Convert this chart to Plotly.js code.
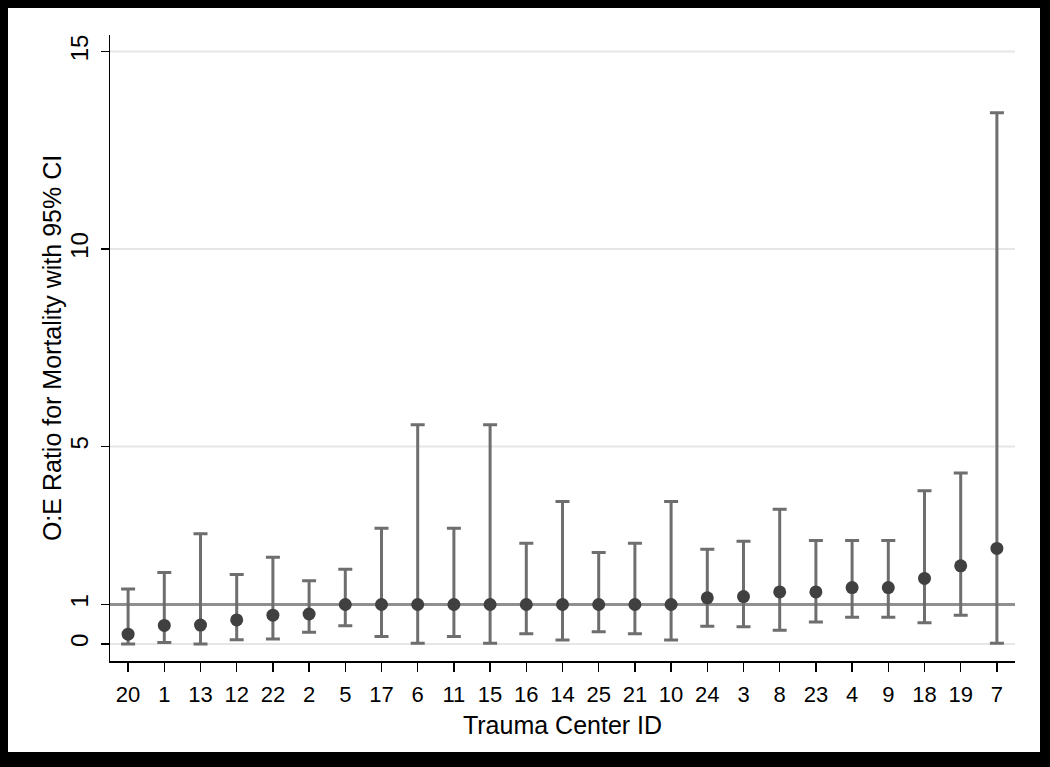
<!DOCTYPE html>
<html>
<head>
<meta charset="utf-8">
<script src="https://cdn.plot.ly/plotly-3.0.1.min.js"></script>
<style>
  html, body { margin: 0; padding: 0; background: #000; }
  #chart { position: absolute; left: 8px; top: 8px; width: 1032px; height: 744px; background: #fff; }
</style>
</head>
<body>
<div id="chart"></div>
<script>
// trauma centres, ordered by O:E ratio
var centers = ['20','1','13','12','22','2','5','17','6','11','15','16','14','25','21','10','24','3','8','23','4','9','18','19','7']
var oe_ratio = [0.25,0.47,0.48,0.61,0.73,0.76,1.0,1.0,1.0,1.0,1.0,1.0,1.0,1.0,1.0,1.0,1.17,1.2,1.32,1.32,1.43,1.43,1.66,1.98,2.42]
var ci_upper = [1.39,1.81,2.79,1.76,2.2,1.6,1.89,2.93,5.55,2.93,5.55,2.55,3.61,2.32,2.55,3.61,2.4,2.6,3.41,2.62,2.62,2.62,3.88,4.33,13.45]
var ci_lower = [0.0,0.04,0.0,0.11,0.13,0.3,0.46,0.19,0.02,0.19,0.02,0.26,0.1,0.31,0.26,0.1,0.45,0.44,0.35,0.56,0.68,0.68,0.54,0.73,0.02]
var y_ticks = [0, 1, 5, 10, 15]
var grid_vals = [0, 5, 10, 15]
var ref_value = 1

var font_family = 'Liberation Sans, Arial, sans-serif'

var points = {
	x: centers,
	y: oe_ratio,
	type: 'scatter',
	mode: 'markers',
	marker: {size: 13, color: '#404040'},
	error_y: {
		type: 'data',
		symmetric: false,
		array: oe_ratio.map((v, i) => ci_upper[i] - v),
		arrayminus: oe_ratio.map((v, i) => v - ci_lower[i]),
		color: '#6e6e6e',
		thickness: 3,
		width: 7
	},
	hoverinfo: 'x+y',
	showlegend: false
}

// gridlines drawn as shapes so the reference line at 1 stays on top of them
var shapes = grid_vals.map(v => ({
	type: 'line',
	xref: 'paper', x0: 0, x1: 1,
	yref: 'y', y0: v, y1: v,
	line: {color: '#e6e6e6', width: 2},
	layer: 'below'
}))
shapes.push({
	type: 'line',
	xref: 'paper', x0: 0, x1: 1,
	yref: 'y', y0: ref_value, y1: ref_value,
	line: {color: '#8f8f8f', width: 3},
	layer: 'below'
})

var layout = {
	width: 1032,
	height: 744,
	paper_bgcolor: '#fff',
	plot_bgcolor: '#fff',
	font: {family: font_family, color: '#000', size: 22},
	margin: {l: 102, r: 25, t: 27, b: 91},
	showlegend: false,
	xaxis: {
		type: 'category',
		range: [-0.5, 24.5],
		showgrid: false,
		zeroline: false,
		showline: true,
		linecolor: '#000',
		linewidth: 1.5,
		ticks: 'outside',
		ticklen: 9,
		tickwidth: 1.5,
		tickcolor: '#000',
		ticklabelstandoff: 4,
		tickfont: {size: 22},
		automargin: false,
		title: {text: 'Trauma Center ID', font: {size: 25}, standoff: 10}
	},
	yaxis: {
		range: [-0.43, 15.42],
		tickvals: y_ticks,
		ticktext: y_ticks.map(String),
		tickangle: -90,
		showgrid: false,
		zeroline: false,
		showline: true,
		linecolor: '#000',
		linewidth: 1.5,
		ticks: 'outside',
		ticklen: 8,
		tickwidth: 1.5,
		tickcolor: '#000',
		ticklabelstandoff: 3,
		tickfont: {size: 24},
		automargin: false
	},
	// y title as annotation so it can sit where the original has it
	annotations: [{
		text: 'O:E Ratio for Mortality with 95% CI',
		xref: 'paper', yref: 'paper',
		x: -0.064, y: 0.5,
		xanchor: 'center', yanchor: 'middle',
		textangle: -90,
		showarrow: false,
		font: {size: 25}
	}],
	shapes: shapes
}

Plotly.newPlot('chart', [points], layout, {displayModeBar: false, staticPlot: true})
</script>
</body>
</html>
